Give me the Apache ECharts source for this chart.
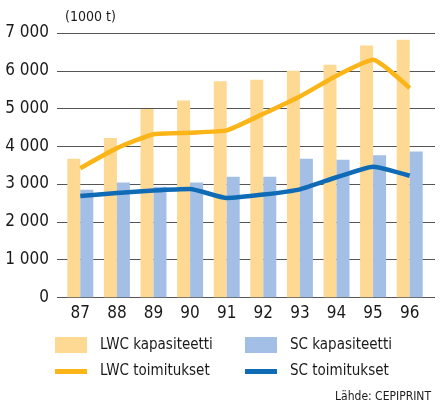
<!DOCTYPE html>
<html><head><meta charset="utf-8">
<script src="https://cdn.jsdelivr.net/npm/echarts@6/dist/echarts.min.js"></script>
<style>html,body{margin:0;padding:0;background:#fff}#c{width:447px;height:408px}</style>
</head><body><div id="c"></div>
<script>
const years = ['87','88','89','90','91','92','93','94','95','96'];
const lwcCapacity = [3670,4220,4990,5210,5720,5760,6000,6160,6670,6820];
const scCapacity = [2850,3040,2930,3040,3190,3190,3670,3640,3760,3860];
const lwcDeliveries = [3420,3950,4320,4360,4420,4860,5320,5870,6290,5540];
const scDeliveries = [2680,2760,2830,2870,2630,2720,2860,3180,3460,3220];
const yTicks = [0,1000,2000,3000,4000,5000,6000,7000];

const FONT = '"DejaVu Sans Condensed","Liberation Sans Narrow",sans-serif';
const C_LWC_BAR = '#FDD994', C_SC_BAR = '#A3BFE6', C_LWC_LINE = '#FBB518', C_SC_LINE = '#0F6BB5';
const fmt = v => v === 0 ? '0' : (Math.floor(v/1000) + ' ' + String(v%1000).padStart(3,'0'));

const chart = echarts.init(document.getElementById('c'), null, {renderer:'canvas'});
const legendBase = {orient:'horizontal', itemGap:0, textStyle:{fontFamily:FONT, fontSize:15, color:'#1a1a1a', padding:[0,0,0,8]}, selectedMode:false, padding:0};
chart.setOption({
  animation:false,
  backgroundColor:'#fff',
  graphic:[
    {type:'text', left:65, top:10, style:{text:'(1000 t)', font:'14px '+FONT, fill:'#1a1a1a'}},
    {type:'text', right:16, top:391, style:{text:'Lähde: CEPIPRINT', font:'12px '+FONT, fill:'#1a1a1a'}}
  ],
  grid:[
    {left:57, right:12, top:33, bottom:110.7},
    {left:62, right:19, top:33, bottom:110.7}
  ],
  xAxis:[
    {gridIndex:0, type:'category', data:years, show:false},
    {gridIndex:1, type:'category', data:years, axisLine:{show:false}, axisTick:{show:false},
     axisLabel:{fontFamily:FONT, fontSize:17, color:'#1a1a1a', margin:8}}
  ],
  yAxis:[
    {gridIndex:0, type:'value', min:0, max:7000, interval:1000,
     axisLine:{show:false}, axisTick:{show:false},
     splitLine:{lineStyle:{color:'#555', width:1}},
     axisLabel:{fontFamily:FONT, fontSize:17, color:'#1a1a1a', margin:8, formatter:fmt}},
    {gridIndex:1, type:'value', min:0, max:7000, interval:1000, show:false, splitLine:{show:false}}
  ],
  legend:[
    Object.assign({}, legendBase, {left:55, top:337, itemWidth:32, itemHeight:16, data:[{name:'LWC kapasiteetti', icon:'rect'}]}),
    Object.assign({}, legendBase, {left:245, top:337, itemWidth:32, itemHeight:16, data:[{name:'SC kapasiteetti', icon:'rect'}]}),
    Object.assign({}, legendBase, {left:55, top:364, itemWidth:32, itemHeight:16, data:[{name:'LWC toimitukset', icon:'path://M0,6h32v5h-32z'}]}),
    Object.assign({}, legendBase, {left:245, top:364, itemWidth:32, itemHeight:16, data:[{name:'SC toimitukset', icon:'path://M0,6h32v5h-32z'}]})
  ],
  series:[
    {name:'LWC kapasiteetti', type:'bar', xAxisIndex:1, yAxisIndex:1, data:lwcCapacity, barWidth:13, barGap:'0%', itemStyle:{color:C_LWC_BAR}},
    {name:'SC kapasiteetti', type:'bar', xAxisIndex:1, yAxisIndex:1, data:scCapacity, barWidth:13, barGap:'0%', itemStyle:{color:C_SC_BAR}},
    {name:'LWC toimitukset', type:'line', xAxisIndex:1, yAxisIndex:1, data:lwcDeliveries, smooth:0.15, symbol:'none', lineStyle:{color:C_LWC_LINE, width:4.5, join:'round'}, itemStyle:{color:C_LWC_LINE}},
    {name:'SC toimitukset', type:'line', xAxisIndex:1, yAxisIndex:1, data:scDeliveries, smooth:0.15, symbol:'none', lineStyle:{color:C_SC_LINE, width:4.5, join:'round'}, itemStyle:{color:C_SC_LINE}}
  ]
});
</script></body></html>
